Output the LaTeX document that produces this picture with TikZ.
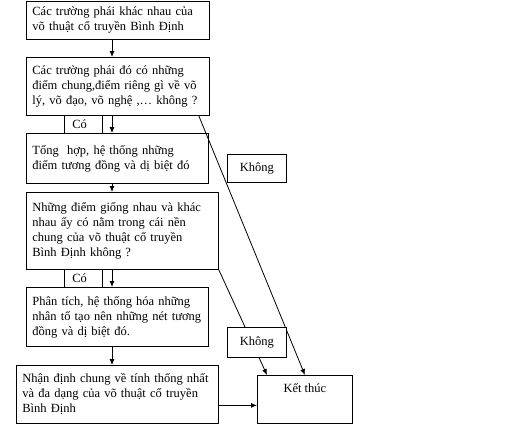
\documentclass[tikz,border=0pt]{standalone}
\usepackage{fontspec}
\setmainfont{Liberation Serif}
\usetikzlibrary{positioning,arrows.meta,calc}
\tikzset{
  stepbox/.style={draw,line width=0.8pt,fill=white,anchor=north west,align=left,
    inner xsep=6pt,inner ysep=0pt,font=\fontsize{12.5}{15}\selectfont},
  tagbox/.style={draw,line width=0.8pt,fill=white,anchor=north west,inner sep=0pt,
    font=\fontsize{12.5}{15}\selectfont},
  cobox/.style={tagbox,align=left,inner xsep=8pt,text width=22pt,minimum height=18pt},
  arr/.style={-{Latex[length=6pt,width=5pt]},line width=0.8pt},
}
\begin{document}
\begin{tikzpicture}[x=1pt,y=-1pt]
  \useasboundingbox (0,0) rectangle (512,432);
  % steps of the flow
  \node[stepbox,text width=171pt,minimum height=38pt] (b1) at (26,1)
    {Các trường phái khác nhau của\\ võ thuật cổ truyền Bình Định};
  \node[stepbox,text width=171pt,minimum height=58pt] (b2) at (26,57)
    {Các trường phái đó có những\\ điểm chung,điểm riêng gì về võ\\ lý, võ đạo, võ nghệ ,… không ?};
  \node[stepbox,text width=170pt,minimum height=50pt] (b3) at (26,133)
    {Tổng\ \ hợp, hệ thống những\\ điểm tương đồng và dị biệt đó};
  \node[stepbox,text width=180pt,minimum height=77pt] (b4) at (26,192)
    {Những điểm giống nhau và khác\\ nhau ấy có nằm trong cái nền\\ chung của võ thuật cổ truyền\\ Bình Định không ?};
  \node[stepbox,text width=170pt,minimum height=59pt] (b5) at (26,287)
    {Phân tích, hệ thống hóa những\\ nhân tố tạo nên những nét tương\\ đồng và dị biệt đó.};
  \node[stepbox,text width=190pt,minimum height=58pt] (b6) at (16,365)
    {Nhận định chung về tính thống nhất\\ và đa dạng của võ thuật cổ truyền\\ Bình Định};
  \node[tagbox,minimum width=95pt,text height=17pt,text depth=31pt] (ket) at (257,375)
    {Kết thúc};
  % answer tags
  \node[cobox] (co1) at (64,115) {Có};
  \node[cobox] (co2) at (64,269) {Có};
  % arrows
  \coordinate (ax) at (112,0);
  \draw[arr] (b1.south -| ax) -- (b2.north -| ax);
  \draw[arr] (b2.south -| ax) -- (b3.north -| ax);
  \draw[arr] (b3.south -| ax) -- (b4.north -| ax);
  \draw[arr] (b4.south -| ax) -- (b5.north -| ax);
  \draw[arr] (b5.south -| ax) -- (b6.north -| ax);
  \coordinate (m) at ([yshift=-11pt]b6.east);
  \draw[arr] (m) -- (m -| ket.west);
  \draw[arr] ([xshift=-11pt]b2.south east) -- (ket.north);
  \draw[arr] (b4.south east) -- ([xshift=10pt]ket.north west);
  % "no" tags on top of the lines
  \node[tagbox,minimum width=59pt,minimum height=28pt] (kh1) at (227,154) {Không};
  \node[tagbox,minimum width=59pt,minimum height=30pt] (kh2) at (227,327) {Không};
\end{tikzpicture}
\end{document}
